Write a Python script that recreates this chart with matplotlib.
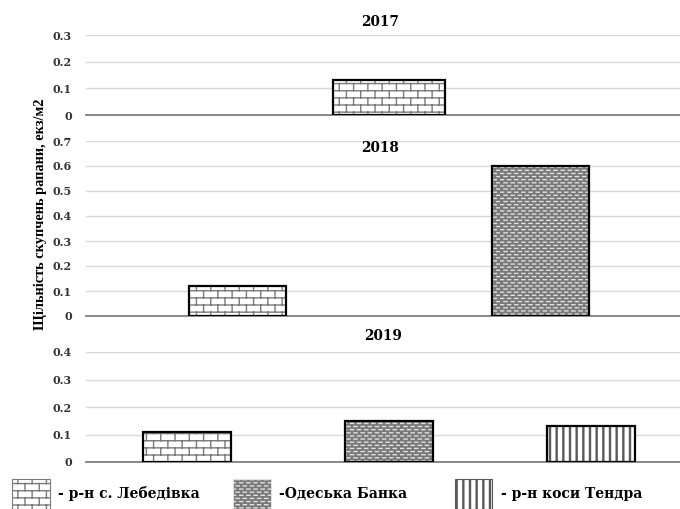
import warnings
import matplotlib
matplotlib.use("Agg")
import matplotlib.pyplot as plt
import matplotlib.hatch as mhatch
from matplotlib.path import Path
from matplotlib.patches import Patch
from matplotlib.ticker import MultipleLocator, FuncFormatter

warnings.filterwarnings("ignore", category=matplotlib.MatplotlibDeprecationWarning)

# ---------------------------------------------------------------- data
sites = ["р-н с. Лебедівка", "Одеська Банка", "р-н коси Тендра"]
legend_labels = ["- р-н с. Лебедівка", "-Одеська Банка", "- р-н коси Тендра"]
years = ["2017", "2018", "2019"]

sites_2017 = ["р-н с. Лебедівка"]
values_2017 = [0.13]
sites_2018 = ["р-н с. Лебедівка", "Одеська Банка"]
values_2018 = [0.12, 0.60]
sites_2019 = ["р-н с. Лебедівка", "Одеська Банка", "р-н коси Тендра"]
values_2019 = [0.11, 0.15, 0.13]

y_limits = [0.3, 0.7, 0.4]
y_label = "Щільність скупчень рапани, екз/м2"


# ---------------------------------------------------------------- custom hatches
def _vwrap(x, y0, y1):
    """Vertical segment wrapped into the unit hatch cell."""
    if y1 <= 1.0:
        return [(x, y0, x, y1)]
    return [(x, y0, x, 1.0), (x, 0.0, x, y1 - 1.0)]


class _SegmentHatch(mhatch.HatchPatternBase):
    key = ""

    def __init__(self, hatch, density):
        self.segs = self.segments() if self.key in hatch else []
        self.num_vertices = 2 * len(self.segs)

    def segments(self):
        return []

    def set_vertices_and_codes(self, vertices, codes):
        for i, (x0, y0, x1, y1) in enumerate(self.segs):
            vertices[2 * i] = (x0, y0)
            vertices[2 * i + 1] = (x1, y1)
            codes[2 * i] = Path.MOVETO
            codes[2 * i + 1] = Path.LINETO


class BrickHatch(_SegmentHatch):
    key = "b"
    rows = 14

    def segments(self):
        n = self.rows
        off = 0.3 / n
        segs = []
        for k in range(n):
            y = k / n + off
            segs.append((0.0, y, 1.0, y))
            shift = 0.5 if k % 2 else 0.0
            for j in range(n // 2):
                x = (2 * j + 2 * shift) / n
                segs += _vwrap(x + 0.5 / n, y, y + 1.0 / n)
        return segs


class DashHatch(_SegmentHatch):
    key = "w"
    rows = 32
    cols = 14

    def segments(self):
        segs = []
        for k in range(self.rows):
            y = (k + 0.5) / self.rows
            shift = 0.5 if k % 2 else 0.0
            for j in range(self.cols):
                x0 = (j + shift) / self.cols
                segs.append((x0 + 0.05 / self.cols, y, x0 + 0.5 / self.cols, y))
        return segs


class StripeHatch(_SegmentHatch):
    key = "v"
    lines = 15

    def segments(self):
        segs = []
        for j in range(self.lines):
            x = (j + 0.5) / self.lines
            for dx in (-0.005, 0.005):
                segs.append((x + dx, 0.0, x + dx, 1.0))
        return segs


mhatch._hatch_types.extend([BrickHatch, DashHatch, StripeHatch])

# ---------------------------------------------------------------- styles
site_style = {
    "р-н с. Лебедівка": dict(hatch="b", face="white", hcolor="#7a7a7a"),
    "Одеська Банка": dict(hatch="w", face="#787878", hcolor="#e0e0e0"),
    "р-н коси Тендра": dict(hatch="v", face="white", hcolor="#5a5a5a"),
}

W, H = 680, 509
fig = plt.figure(figsize=(W / 100, H / 100), dpi=100)

# panel frames in pixels: (left, top, right, bottom)
panels = [
    (86, 35, 692, 115),
    (86, 141, 692, 316),
    (86, 352, 692, 462),
]
bar_widths = [0.185, 0.317, 0.44]
title_xy = [(380, 22), (380, 148), (383, 336)]

panel_sites = [sites_2017, sites_2018, sites_2019]
panel_values = [values_2017, values_2018, values_2019]

serif_bold = dict(family="DejaVu Serif", weight="bold")


def fmt(v, _pos):
    return "0" if abs(v) < 1e-9 else f"{v:.1f}"


for i, (l, t, r, b) in enumerate(panels):
    ax = fig.add_axes([l / W, 1 - b / H, (r - l) / W, (b - t) / H])
    names = panel_sites[i]
    vals = panel_values[i]
    xs = list(range(len(names)))
    for x, name, v in zip(xs, names, vals):
        st = site_style[name]
        ax.bar(x, v, width=bar_widths[i], color=st["face"],
               edgecolor=st["hcolor"], linewidth=0, hatch=st["hatch"], zorder=2)
        ax.bar(x, v, width=bar_widths[i], fill=False, edgecolor="black",
               linewidth=1.6, zorder=3)
    ax.set_xlim(-0.5, len(names) - 0.5)
    ax.set_ylim(0, y_limits[i])
    ax.yaxis.set_major_locator(MultipleLocator(0.1))
    ax.yaxis.set_major_formatter(FuncFormatter(fmt))
    ax.grid(axis="y", color="#d9d9d9", linewidth=1.0, zorder=0)
    ax.set_axisbelow(True)
    ax.set_xticks([])
    for s in ("top", "right", "left"):
        ax.spines[s].set_visible(False)
    ax.spines["bottom"].set_color("#7f7f7f")
    ax.spines["bottom"].set_linewidth(1.3)
    ax.tick_params(axis="y", length=0, pad=10, labelsize=8, labelcolor="#333333")
    for lab in ax.get_yticklabels():
        lab.set_fontfamily("DejaVu Serif")
        lab.set_fontweight("bold")
    tx, ty = title_xy[i]
    fig.text(tx / W, 1 - ty / H, years[i], ha="center", va="center",
             fontsize=9.8, **serif_bold)

fig.text(40 / W, 1 - 214 / H, y_label, rotation=90, ha="center", va="center",
         fontsize=10.4, family="Liberation Serif", weight="bold")

# legend: one entry per site, placed along the bottom edge
legend_left = [12, 233, 455]
for name, label, lx in zip(sites, legend_labels, legend_left):
    st = site_style[name]
    handle = Patch(facecolor=st["face"], edgecolor=st["hcolor"],
                   hatch=st["hatch"], linewidth=0.8)
    fig.legend([handle], [label], loc="center left",
               bbox_to_anchor=(lx / W, 1 - 494 / H), frameon=False,
               prop=dict(family="DejaVu Serif", weight="bold", size=10),
               handlelength=2.7, handleheight=2.95, handletextpad=0.6,
               borderpad=0, borderaxespad=0)

fig.savefig("out.png", dpi=100)
